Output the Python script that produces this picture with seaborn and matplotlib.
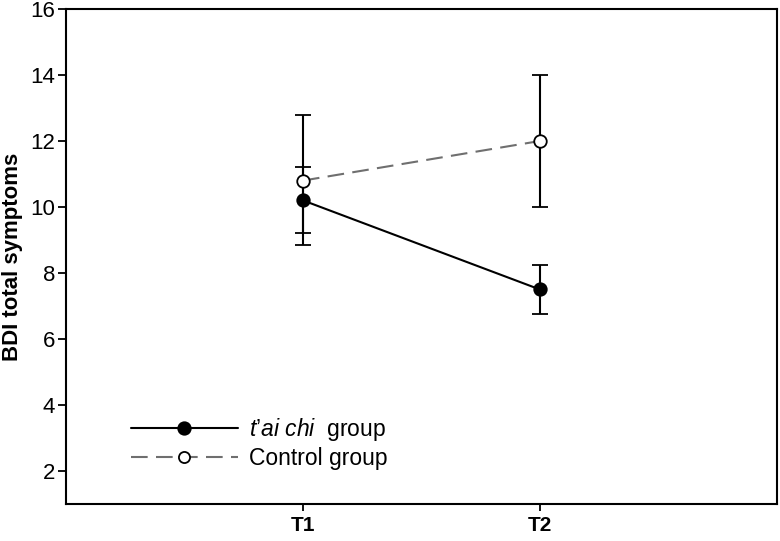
import matplotlib
matplotlib.use("Agg")
import matplotlib.pyplot as plt
import seaborn as sns
import pandas as pd

sns.set_style("white")
plt.rcParams["font.family"] = ["Liberation Sans", "DejaVu Sans"]
plt.rcParams["mathtext.fontset"] = "custom"
plt.rcParams["mathtext.it"] = "Liberation Sans:italic"
plt.rcParams["mathtext.rm"] = "Liberation Sans"
plt.rcParams["text.color"] = "black"
plt.rcParams["axes.labelcolor"] = "black"
plt.rcParams["xtick.color"] = "black"
plt.rcParams["ytick.color"] = "black"

# ---- data ----
times = ["T1", "T2"]
taichi_mean = [10.2, 7.5]
taichi_low = [9.2, 6.75]
taichi_high = [11.2, 8.25]
control_mean = [10.8, 12.0]
control_low = [8.85, 10.0]
control_high = [12.8, 14.0]

taichi_label = r"$\mathit{t’ai\ chi}$  group"
control_label = "Control group"

x_pos = [1, 2]
df = pd.DataFrame({
    "x": x_pos * 2,
    "BDI": taichi_mean + control_mean,
    "group": [taichi_label] * 2 + [control_label] * 2,
})

fig = plt.figure(figsize=(7.8, 5.41), dpi=100)
ax = fig.add_axes([0.0846, 0.0684, 0.9114, 0.915])

# error bars (drawn under the markers)
for means, lo, hi in [(taichi_mean, taichi_low, taichi_high),
                      (control_mean, control_low, control_high)]:
    yerr = [[m - l for m, l in zip(means, lo)], [h - m for m, h in zip(means, hi)]]
    ax.errorbar(x_pos, means, yerr=yerr, fmt="none", ecolor="black",
                elinewidth=1.5, capsize=6, capthick=1.5, zorder=2)

sns.lineplot(data=df, x="x", y="BDI", hue="group", style="group",
             palette={taichi_label: "black", control_label: "#6f6f6f"},
             dashes={taichi_label: "", control_label: (8, 4)},
             markers={taichi_label: "o", control_label: "o"},
             linewidth=1.5, markersize=9, ax=ax, zorder=3)

# marker faces
for line in ax.get_lines():
    if line.get_color() == "#6f6f6f":
        line.set_markerfacecolor("white")
    else:
        line.set_markerfacecolor("black")
    line.set_markeredgecolor("black")
    line.set_markeredgewidth(1.3)
    line.set_zorder(4)

ax.set_xlim(0, 3)
ax.set_ylim(1, 16)
ax.set_xticks(x_pos)
ax.set_xticklabels(times, fontweight="bold", fontsize=15)
ax.set_yticks([2, 4, 6, 8, 10, 12, 14, 16])
ax.tick_params(axis="y", labelsize=16, length=6, width=1.3, direction="out", left=True, pad=2)
ax.tick_params(axis="x", length=5, width=1.3, direction="out", bottom=True, pad=4)
ax.set_xlabel("")
ax.set_ylabel("BDI total symptoms", fontsize=16, fontweight="bold", labelpad=5)

for s in ax.spines.values():
    s.set_linewidth(1.5)
    s.set_color("black")

handles = ax.get_legend().legend_handles
for h in handles:
    h.set_markeredgecolor("black")
    h.set_markeredgewidth(1.3)
handles[0].set_markerfacecolor("black")
handles[1].set_markerfacecolor("white")
handles[1].set_markersize(8)
ax.legend(handles=handles, labels=[taichi_label, control_label],
          loc="center left", bbox_to_anchor=(0.078, 0.123), frameon=False,
          borderaxespad=0, fontsize=16.5, handlelength=4.7, handletextpad=0.45,
          labelspacing=0.2)

fig.savefig("out.png", dpi=100)
